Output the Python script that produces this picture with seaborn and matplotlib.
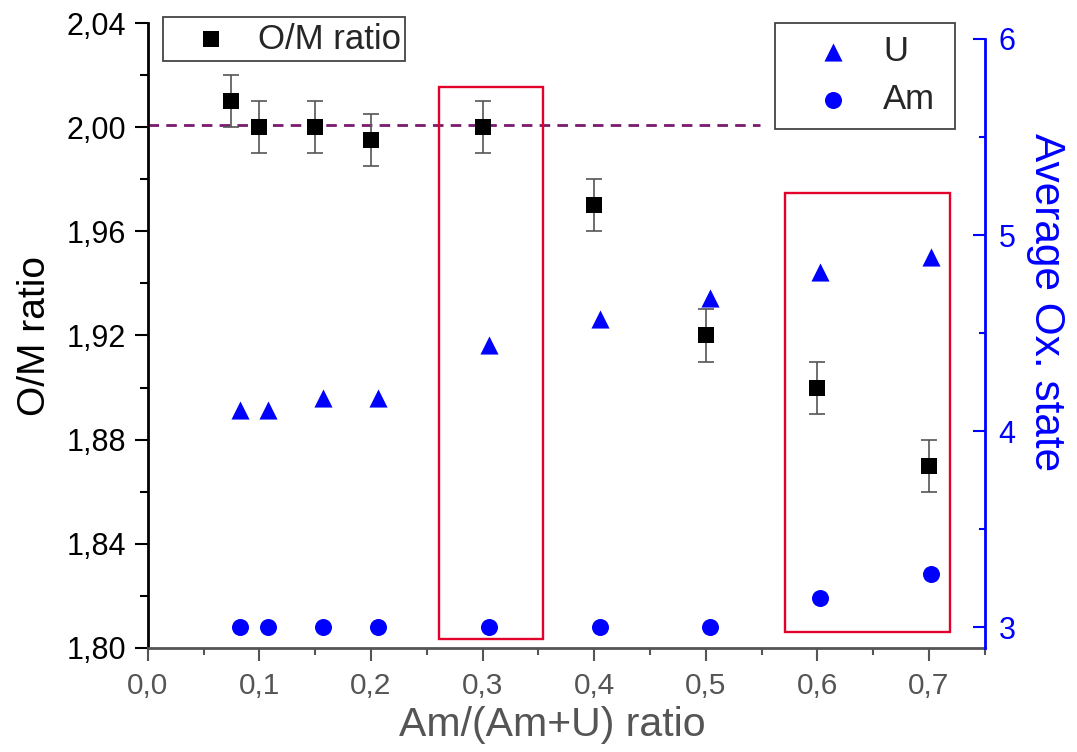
import matplotlib
matplotlib.use('Agg')
import matplotlib.pyplot as plt
import matplotlib.patches as patches
from matplotlib.ticker import MultipleLocator, FuncFormatter
import seaborn as sns

# O/M ratio measurements
om_x = [0.075, 0.1, 0.15, 0.2, 0.3, 0.4, 0.5, 0.6, 0.7]
om_y = [2.01, 2.00, 2.00, 1.995, 2.00, 1.97, 1.92, 1.90, 1.87]
om_err = [0.01, 0.01, 0.01, 0.01, 0.01, 0.01, 0.01, 0.01, 0.01]

# average oxidation states (right axis)
ox_x = [0.083, 0.1075, 0.157, 0.206, 0.3055, 0.405, 0.5035, 0.6025, 0.702]
u_ox = [4.11, 4.11, 4.17, 4.17, 4.44, 4.57, 4.68, 4.81, 4.89]
am_ox = [3.0, 3.0, 3.0, 3.0, 3.0, 3.0, 3.0, 3.15, 3.27]

x_ticks = [0.0, 0.1, 0.2, 0.3, 0.4, 0.5, 0.6, 0.7]
y_ticks = [1.80, 1.84, 1.88, 1.92, 1.96, 2.00, 2.04]
y2_ticks = [3, 4, 5, 6]

sns.set_style('ticks')
plt.rcParams['font.family'] = ['Liberation Sans', 'DejaVu Sans']

blue = '#0000ff'
grey = '#555555'
comma = FuncFormatter(lambda v, p: f'{v:.1f}'.replace('.', ','))
comma2 = FuncFormatter(lambda v, p: f'{v:.2f}'.replace('.', ','))

fig = plt.figure(figsize=(10.77, 7.52), dpi=100)
ax = fig.add_axes([147.7 / 1077, 104.3 / 752, 837 / 1077, 624.4 / 752])
ax2 = ax.twinx()

# left axis: O/M ratio with error bars
ax.errorbar(om_x, om_y, yerr=om_err, fmt='none', ecolor=grey,
            elinewidth=1.2, capsize=5.5, capthick=1.2, zorder=2)
sns.scatterplot(x=om_x, y=om_y, marker='s', color='black', s=125,
                linewidth=0, label='O/M ratio', ax=ax, zorder=3, legend=False)

# reference line at O/M = 2
ax.plot([0, 0.5486], [2.001, 2.001], color='#7a1a6e', lw=2.0,
        ls=(0, (3.8, 2.6)), zorder=1)

# highlight boxes
for (x0, x1, y0, y1) in [(0.2613, 0.3545, 1.8035, 2.0154),
                         (0.5713, 0.7189, 1.8062, 1.9747)]:
    ax.add_patch(patches.Rectangle((x0, y0), x1 - x0, y1 - y0, fill=False,
                                   edgecolor='#e3002b', lw=1.7, zorder=1))

ax.set_xlim(0, 0.75)
ax.set_ylim(1.80, 2.04)
ax.set_xticks(x_ticks)
ax.set_yticks(y_ticks)
ax.xaxis.set_major_formatter(comma)
ax.yaxis.set_major_formatter(comma2)
ax.xaxis.set_minor_locator(MultipleLocator(0.05))
ax.yaxis.set_minor_locator(MultipleLocator(0.02))
ax.tick_params(axis='y', which='major', direction='out', length=9.5, width=1.5,
               labelsize=22, pad=6, colors='black')
ax.tick_params(axis='y', which='minor', direction='out', length=5.5, width=1.5,
               colors='black')
ax.tick_params(axis='x', which='major', direction='out', length=9.5, width=1.5,
               labelsize=21.5, pad=8, colors=grey)
ax.tick_params(axis='x', which='minor', direction='out', length=5, width=1.5,
               colors=grey)
ax.set_xlabel('Am/(Am+U) ratio', fontsize=29.5, color=grey, labelpad=4)
ax.xaxis.label.set_x(0.483)
ax.set_ylabel('O/M ratio', fontsize=28, color='black', labelpad=10)

ax.spines['top'].set_visible(False)
ax.spines['right'].set_visible(False)
ax.spines['left'].set_linewidth(2)
ax.spines['left'].set_color('black')
ax.spines['bottom'].set_linewidth(2)
ax.spines['bottom'].set_color(grey)

# right axis: average oxidation state
sns.scatterplot(x=ox_x, y=u_ox, marker='^', color=blue, s=170, linewidth=0,
                label='U', ax=ax2, legend=False)
sns.scatterplot(x=ox_x, y=am_ox, marker='o', color=blue, s=150, linewidth=0,
                label='Am', ax=ax2, legend=False)
ax2.set_ylim(2.896, 6.08)
ax2.set_yticks(y2_ticks)
ax2.yaxis.set_minor_locator(MultipleLocator(0.5))
ax2.tick_params(axis='y', which='major', direction='in', length=9, width=1.5,
                labelsize=22, pad=10, colors=blue)
ax2.tick_params(axis='y', which='minor', direction='in', length=4.5, width=1.5,
                colors=blue)
ax2.set_ylabel('Average Ox. state', fontsize=30.5, color=blue, rotation=270,
               labelpad=36)
ax2.yaxis.label.set_y(0.554)
for s in ['top', 'left', 'bottom']:
    ax2.spines[s].set_visible(False)
ax2.spines['right'].set_color(blue)
ax2.spines['right'].set_linewidth(2)
ax2.spines['right'].set_bounds(2.896, 6)

# legends
leg1 = ax.legend(handles=ax.collections[-1:], labels=['O/M ratio'],
                 loc='upper left', bbox_to_anchor=(0.0183, 0, 0.289, 1.0096),
                 mode='expand', borderaxespad=0, fontsize=25, frameon=True,
                 fancybox=False, framealpha=1, edgecolor='#444444',
                 borderpad=0.15, handletextpad=0.12, handlelength=2.47)
leg1.get_frame().set_linewidth(1.3)
leg1.set_zorder(5)

leg2 = ax2.legend(handles=ax2.collections[:2], labels=['U', 'Am'],
                  loc='upper left', bbox_to_anchor=(0.7495, 0, 0.215, 1.001),
                  mode='expand', borderaxespad=0, fontsize=25, frameon=True,
                  fancybox=False, framealpha=1, edgecolor='#444444',
                  borderpad=0.35, labelspacing=0.45, handletextpad=0.12,
                  handlelength=2.64)
leg2.get_frame().set_linewidth(1.3)

fig.savefig('out.png', dpi=100)
